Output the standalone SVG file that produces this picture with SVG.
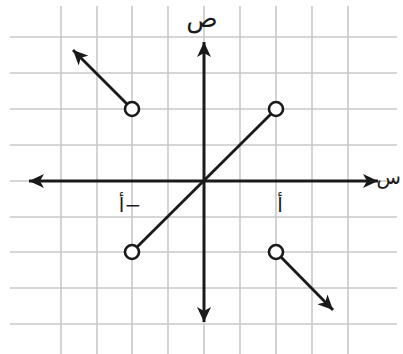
<svg xmlns="http://www.w3.org/2000/svg" width="403" height="354" viewBox="0 0 403 354">
<style>
.grid line{stroke:#c9c9c9;stroke-width:1.6}
.ax{stroke:#1a1a1a;stroke-width:3;fill:none}
.seg{stroke:#1a1a1a;stroke-width:2.8;fill:none}
.pt{fill:#fff;stroke:#1a1a1a;stroke-width:2.6}
.lbl{font-family:"Noto Sans","DejaVu Sans",sans-serif;font-size:26px;fill:#1a1a1a}
.lbr{font-family:"Noto Sans","DejaVu Sans",sans-serif;font-size:20px;fill:#1a1a1a}
.sm{font-family:"DejaVu Sans","Noto Sans",sans-serif;font-size:20px;fill:#1a1a1a}
</style>
<defs>
<marker id="ah" markerUnits="userSpaceOnUse" markerWidth="16" markerHeight="14" viewBox="0 0 16 14" refX="15" refY="7" orient="auto">
<path d="M0,0 L15,7 L0,14 L4,7 Z" fill="#1a1a1a"/>
</marker>
</defs>
<rect width="403" height="354" fill="#fff"/>
<g id="grid" class="grid">
<line x1="61" y1="6" x2="61" y2="354"/>
<line x1="97" y1="6" x2="97" y2="354"/>
<line x1="132" y1="6" x2="132" y2="354"/>
<line x1="168" y1="6" x2="168" y2="354"/>
<line x1="204" y1="6" x2="204" y2="354"/>
<line x1="240" y1="6" x2="240" y2="354"/>
<line x1="276" y1="6" x2="276" y2="354"/>
<line x1="312" y1="6" x2="312" y2="354"/>
<line x1="348" y1="6" x2="348" y2="354"/>
<line x1="10" y1="37" x2="397" y2="37"/>
<line x1="10" y1="73" x2="397" y2="73"/>
<line x1="10" y1="109" x2="397" y2="109"/>
<line x1="10" y1="145" x2="397" y2="145"/>
<line x1="10" y1="181" x2="397" y2="181"/>
<line x1="10" y1="217" x2="397" y2="217"/>
<line x1="10" y1="252" x2="397" y2="252"/>
<line x1="10" y1="288" x2="397" y2="288"/>
<line x1="10" y1="324" x2="397" y2="324"/>
</g>
<g id="connectors">
<line class="ax" x1="204" y1="181" x2="378" y2="181" marker-end="url(#ah)"/>
<line class="ax" x1="204" y1="181" x2="29" y2="181" marker-end="url(#ah)"/>
<line class="ax" x1="204" y1="181" x2="204" y2="42" marker-end="url(#ah)"/>
<line class="ax" x1="204" y1="181" x2="204" y2="322" marker-end="url(#ah)"/>
<line class="seg" x1="276" y1="109" x2="132" y2="252"/>
<line class="seg" x1="132" y1="109" x2="73" y2="50" marker-end="url(#ah)"/>
<line class="seg" x1="276" y1="252" x2="333" y2="310" marker-end="url(#ah)"/>
</g>
<g id="p1"><circle class="pt" cx="132" cy="109" r="7"/></g>
<g id="p2"><circle class="pt" cx="276" cy="109" r="7"/></g>
<g id="p3"><circle class="pt" cx="132" cy="252" r="7"/></g>
<g id="p4"><circle class="pt" cx="276" cy="252" r="7"/></g>
<g id="labels">
<text class="lbl" x="202" y="27" text-anchor="middle">ص</text>
<text class="lbr" x="401" y="184" text-anchor="end">س</text>
<text class="sm" x="280" y="212" text-anchor="middle">أ</text>
<text class="sm" x="130" y="212" text-anchor="middle">أ−</text>
</g>
</svg>
